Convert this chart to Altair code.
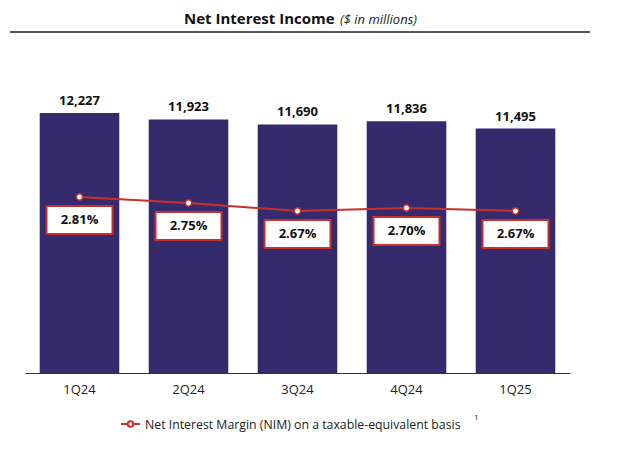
import altair as alt
import pandas as pd

quarters = ["1Q24", "2Q24", "3Q24", "4Q24", "1Q25"]
nii = [12227, 11923, 11690, 11836, 11495]
nim = [2.81, 2.75, 2.67, 2.70, 2.67]

df = pd.DataFrame({
    "q": quarters,
    "nii": nii,
    "nim": nim,
    "nii_label": [f"{v:,}" for v in nii],
    "nim_label": [f"{v:.2f}%" for v in nim],
})

FONT = "Open Sans"
BAR = "#342a6c"
RED = "#c8302c"

x = alt.X("q:N", sort=quarters, title=None,
          scale=alt.Scale(paddingInner=0.27, paddingOuter=0.135),
          axis=alt.Axis(labelAngle=0, ticks=False, labelPadding=10, labelFontSize=13,
                        labelFont=FONT, labelColor="#222", domainColor="#333", domainWidth=1))
base = alt.Chart(df).encode(x=x)

bars = base.mark_bar(color=BAR).encode(
    y=alt.Y("nii:Q", scale=alt.Scale(domain=[0, 15660]), axis=None))
bar_text = base.mark_text(dy=-12, fontSize=13, fontWeight="bold", font=FONT, color="#111").encode(
    y=alt.Y("nii:Q", scale=alt.Scale(domain=[0, 15660]), axis=None), text="nii_label:N")

ny = alt.Y("nim:Q", scale=alt.Scale(domain=[1.05, 4.38]), axis=None)
line = base.mark_line(color=RED, strokeWidth=2).encode(y=ny)
pts = base.mark_point(shape="circle", filled=True, fill="white", stroke=RED, strokeWidth=1.5, size=40, opacity=1).encode(y=ny)
boxes = base.mark_rect(width=66, height=28, yOffset=23, fill="white", stroke=RED, strokeWidth=2).encode(y=ny)
box_text = base.mark_text(dy=23, fontSize=13, fontWeight="bold", font=FONT, color="#111").encode(
    y=ny, text="nim_label:N")

one = pd.DataFrame({"a": [0]})
title1 = alt.Chart(one).mark_text(text="Net Interest Income", align="left", fontSize=15, fontWeight="bold",
                                  font=FONT, color="#111").encode(x=alt.value(159), y=alt.value(-21))
title2 = alt.Chart(one).mark_text(text="($ in millions)", align="left", fontSize=13, fontStyle="italic",
                                  font=FONT, color="#222").encode(x=alt.value(315), y=alt.value(-20))
rule = alt.Chart(one).mark_rule(color="#222", strokeWidth=1.5).encode(
    x=alt.value(-15), x2=alt.value(565), y=alt.value(-8))
leg_line = alt.Chart(one).mark_rule(color=RED, strokeWidth=2).encode(
    x=alt.value(96), x2=alt.value(115), y=alt.value(384))
leg_pt = alt.Chart(one).mark_point(shape="circle", filled=True, fill="white", stroke=RED, size=30, opacity=1).encode(
    x=alt.value(105.5), y=alt.value(384))
leg_text = alt.Chart(one).mark_text(text="Net Interest Margin (NIM) on a taxable-equivalent basis", align="left",
                                    fontSize=12.3, font=FONT, color="#222").encode(x=alt.value(120), y=alt.value(385))
leg_sup = alt.Chart(one).mark_text(text="1", align="left", fontSize=8, font=FONT, color="#222").encode(
    x=alt.value(449), y=alt.value(378))

chart = alt.layer(
    bars, bar_text, line, pts, boxes, box_text,
    title1, title2, rule, leg_line, leg_pt, leg_text, leg_sup,
).resolve_scale(y="independent").properties(
    width=545, height=333,
    autosize=alt.AutoSizeParams(type="none"),
    padding={"left": 17, "top": 32, "right": 40, "bottom": 60},
).configure_view(stroke=None)

chart.save("out.html", embed_options={"renderer": "svg", "actions": False})
